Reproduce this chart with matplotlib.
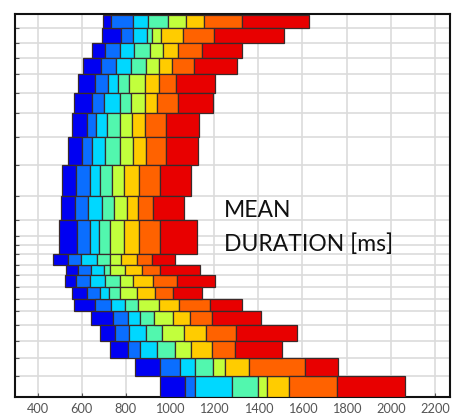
import matplotlib
matplotlib.use("Agg")
import matplotlib.pyplot as plt
import numpy as np

# row boundaries (top to bottom), arbitrary vertical units
row_edges = [381, 367.7, 353.3, 338.5, 321.8, 303, 282.7, 258.7, 231, 200.5, 176.7,
             142, 131, 121, 109.3, 97, 85, 71, 55.3, 38.7, 20.3, 0]
extra_yticks = [160, 151.7]

# duration boundaries [ms] of the coloured segments, one value per row (top to bottom)
b0 = [696, 692, 647, 606, 582, 567, 556, 540, 511, 506, 498, 471, 530, 523, 556, 564, 643, 681, 727, 842, 955]
b1 = [734, 779, 707, 689, 662, 648, 622, 602, 576, 569, 579, 540, 585, 574, 625, 662, 741, 752, 812, 955, 1066]
b2 = [832, 832, 774, 756, 719, 703, 667, 647, 636, 630, 636, 596, 640, 636, 684, 735, 810, 813, 863, 1044, 1111]
b3 = [899, 895, 839, 824, 764, 773, 714, 705, 684, 692, 678, 669, 699, 705, 724, 797, 863, 892, 941, 1113, 1279]
b4 = [992, 917, 910, 892, 816, 825, 773, 774, 737, 747, 729, 728, 728, 773, 774, 855, 928, 962, 1024, 1195, 1398]
b5 = [1072, 959, 967, 952, 887, 886, 827, 831, 790, 803, 791, 777, 797, 832, 850, 949, 1012, 1064, 1094, 1248, 1440]
b6 = [1154, 1060, 1035, 1007, 952, 941, 886, 891, 861, 855, 861, 850, 874, 921, 930, 1042, 1089, 1164, 1189, 1359, 1537]
b7 = [1326, 1200, 1143, 1109, 1027, 1035, 980, 982, 953, 923, 955, 919, 955, 1032, 1013, 1180, 1189, 1301, 1293, 1611, 1756]
b8 = [1628, 1518, 1328, 1305, 1205, 1195, 1132, 1127, 1095, 1064, 1120, 1024, 1137, 1203, 1146, 1328, 1413, 1573, 1507, 1763, 2066]

seg_colors = ["#0000F2", "#0A6EFF", "#00D8FF", "#52F7AE", "#C2FF3C", "#FFCC00", "#FF6200", "#E80000"]
xticks = [400, 600, 800, 1000, 1200, 1400, 1600, 1800, 2000, 2200]

fig = plt.figure(figsize=(4.55, 4.19), dpi=100)
ax = fig.add_axes([15 / 455, 22.5 / 419, 435 / 455, 382 / 419])

bounds = np.array([b0, b1, b2, b3, b4, b5, b6, b7, b8], dtype=float)
edges = np.array(row_edges)
bottoms = edges[1:]
heights = edges[:-1] - edges[1:]

for k in range(8):
    ax.barh(bottoms, bounds[k + 1] - bounds[k], left=bounds[k], height=heights,
            align="edge", color=seg_colors[k], edgecolor="#3a2a2a", linewidth=0.9, zorder=3)

ax.set_xlim(298, 2268)
ax.set_ylim(0, 381.5)
ax.set_xticks(xticks)
ax.set_yticks(sorted(row_edges[1:-1] + extra_yticks))
ax.set_yticklabels([])
ax.grid(True, color="#dcdcdc", linewidth=1.2, zorder=0)
ax.set_axisbelow(True)

ax.tick_params(axis="both", direction="in", length=3, width=0.8, color="#555555")
ax.tick_params(axis="x", labelsize=9.2, labelcolor="#555555", pad=5)
for lab in ax.get_xticklabels():
    lab.set_family("Lato")
for s in ax.spines.values():
    s.set_linewidth(1.5)
    s.set_color("#111111")

ax.text(1245, 179, "MEAN", fontsize=16.5, family="Lato", color="#111111", va="baseline", zorder=5)
ax.text(1245, 145, "DURATION [ms]", fontsize=16.5, family="Lato", color="#111111", va="baseline", zorder=5)

fig.savefig("out.png", dpi=100)
